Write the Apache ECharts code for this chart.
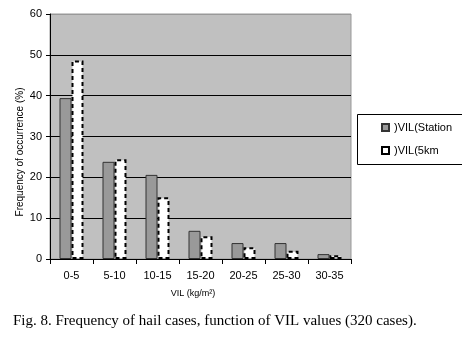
<!DOCTYPE html>
<html>
<head>
<meta charset="utf-8">
<script src="https://cdn.jsdelivr.net/npm/echarts@6/dist/echarts.min.js"></script>
<style>
html, body { margin: 0; padding: 0; background: #fff; }
#chart { width: 462px; height: 341px; }
</style>
</head>
<body>
<div id="chart"></div>
<script>
var categories = ['0-5', '5-10', '10-15', '15-20', '20-25', '25-30', '30-35'];
var station = [39.4, 23.8, 20.6, 6.9, 3.9, 3.9, 1.2];
var km5 = [48.6, 24.4, 15.1, 5.6, 2.9, 2.0, 0.9];
var seriesNames = [')VIL(Station', ')VIL(5km'];

var myChart = echarts.init(document.getElementById('chart'));
var font = 'Liberation Sans, Arial, sans-serif';
var option = {
	animation: false,
	grid: {
		left: 50, right: 111, top: 14, bottom: 82,
		show: true,
		backgroundColor: '#c0c0c0',
		borderColor: '#999',
		borderWidth: 1
	},
	legend: {
		orient: 'vertical',
		left: 376, top: 117,
		icon: 'rect',
		itemWidth: 7, itemHeight: 7,
		itemGap: 12,
		textStyle: { fontFamily: font, fontSize: 11, color: '#000' },
		data: seriesNames
	},
	graphic: [
		{
			type: 'rect',
			shape: { x: 357.5, y: 114.5, width: 120, height: 50 },
			style: { fill: 'none', stroke: '#000', lineWidth: 1 },
			z: -1
		},
		{
			type: 'text',
			x: 20, y: 152,
			rotation: Math.PI / 2,
			style: {
				text: 'Frequency of occurrence (%)',
				font: '10px "Liberation Sans", Arial, sans-serif',
				fill: '#000',
				align: 'center',
				verticalAlign: 'middle'
			}
		},
		{
			type: 'text',
			x: 193, y: 294,
			style: {
				text: 'VIL (kg/m²)',
				font: '9px "Liberation Sans", Arial, sans-serif',
				fill: '#000',
				align: 'center',
				verticalAlign: 'middle'
			}
		},
		{
			type: 'text',
			left: 13, top: 314,
			style: {
				text: 'Fig. 8. Frequency of hail cases, function of VIL values (320 cases).',
				font: '15px "Liberation Serif", "Times New Roman", serif',
				fill: '#000'
			}
		}
	],
	xAxis: {
		type: 'category',
		data: categories,
		axisLine: { lineStyle: { color: '#000' } },
		axisTick: { show: true, length: 5, lineStyle: { color: '#000' } },
		axisLabel: { fontFamily: font, fontSize: 11, color: '#000', margin: 11, interval: 0 }
	},
	yAxis: {
		type: 'value',
		min: 0, max: 60, interval: 10,
		axisLine: { show: true, lineStyle: { color: '#000' } },
		axisTick: { show: true, length: 4, lineStyle: { color: '#000' } },
		axisLabel: { fontFamily: font, fontSize: 11, color: '#000', margin: 8 },
		splitLine: { show: true, lineStyle: { color: ['#000', '#000', '#000', '#000', '#000', '#000', '#999'], width: 1 } }
	},
	series: [
		{
			name: seriesNames[0],
			type: 'bar',
			data: station,
			barWidth: 12,
			barGap: '0%',
			itemStyle: { color: '#999', borderColor: '#333', borderWidth: 1 }
		},
		{
			name: seriesNames[1],
			type: 'bar',
			data: km5,
			barWidth: 12,
			itemStyle: { color: '#fff', borderColor: '#000', borderWidth: 2, borderType: [4, 3] }
		}
	]
};
myChart.setOption(option);
</script>
</body>
</html>
